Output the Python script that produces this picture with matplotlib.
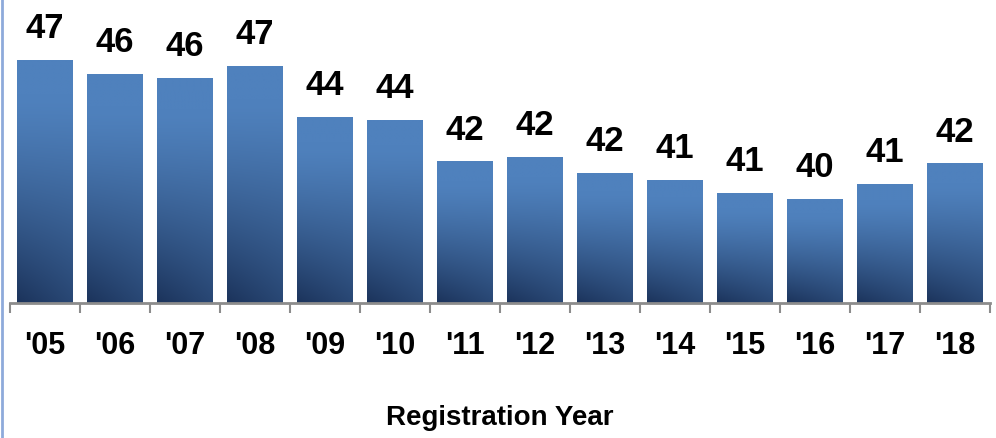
import numpy as np
import matplotlib
matplotlib.use("Agg")
import matplotlib.pyplot as plt
from matplotlib.lines import Line2D

years = ["'05", "'06", "'07", "'08", "'09", "'10", "'11", "'12", "'13", "'14", "'15", "'16", "'17", "'18"]
values = [46.97, 46.31, 46.12, 46.69, 44.3, 44.15, 42.2, 42.4, 41.64, 41.32, 40.7, 40.42, 41.13, 42.1]
labels = ["47", "46", "46", "47", "44", "44", "42", "42", "42", "41", "41", "40", "41", "42"]

plt.rcParams['font.family'] = ['Liberation Sans', 'DejaVu Sans']
plt.rcParams['font.weight'] = 'bold'

fig = plt.figure(figsize=(9.96, 4.38), dpi=100)
ax = fig.add_axes([10/996, 1 - 303/438, 980/996, 303/438])

x = np.arange(len(years))
bars = ax.bar(x, values, width=0.79, facecolor='none', edgecolor='none')

# vertical gradient, light on top, dark navy at the bottom
top = np.array([79, 129, 189]) / 255
bot = np.array([28, 52, 92]) / 255
ny, nx = 60, 20
tt = np.linspace(0, 1, ny)[:, None]
ss = np.linspace(0, 1, nx)[None, :]
w = np.clip((tt - 0.15) / 0.85, 0, 1) ** 1.3
w = w * (1 - 0.25 * ss * tt)
img = top[None, None, :] * (1 - w[..., None]) + bot[None, None, :] * w[..., None]

for b in bars:
    x0, y0 = b.get_x(), 35.5
    x1, y1 = b.get_x() + b.get_width(), b.get_height()
    im = ax.imshow(img, extent=[x0, x1, y0, y1], aspect='auto', zorder=2,
                   interpolation='bilinear')
    im.set_clip_path(b)

for xi, v, lab in zip(x, values, labels):
    ax.annotate(lab, (xi, v), xytext=(0, 15.5), textcoords='offset points',
                ha='center', va='baseline', fontsize=25, fontweight='bold')

ax.set_xlim(-0.5, len(years) - 0.5)
ax.set_ylim(35.5, 49.8)
ax.set_yticks([])
for s in ['left', 'right', 'top']:
    ax.spines[s].set_visible(False)
ax.spines['bottom'].set_color('#8c8c8c')
ax.spines['bottom'].set_linewidth(2)

ax.set_xticks(x)
ax.set_xticklabels(years, fontsize=22, fontweight='bold')
ax.tick_params(axis='x', which='major', length=0, pad=20)
ax.set_xticks(np.arange(-0.5, len(years)), minor=True)
ax.tick_params(axis='x', which='minor', length=7, width=1.5, color='#8c8c8c')

fig.text(500/996, 1 - 425/438, "Registration Year", ha='center', va='baseline',
         fontsize=20, fontweight='bold')

fig.add_artist(Line2D([2/996, 2/996], [0, 1], color='#8eaadb', linewidth=2))

fig.savefig("out.png", dpi=100)
